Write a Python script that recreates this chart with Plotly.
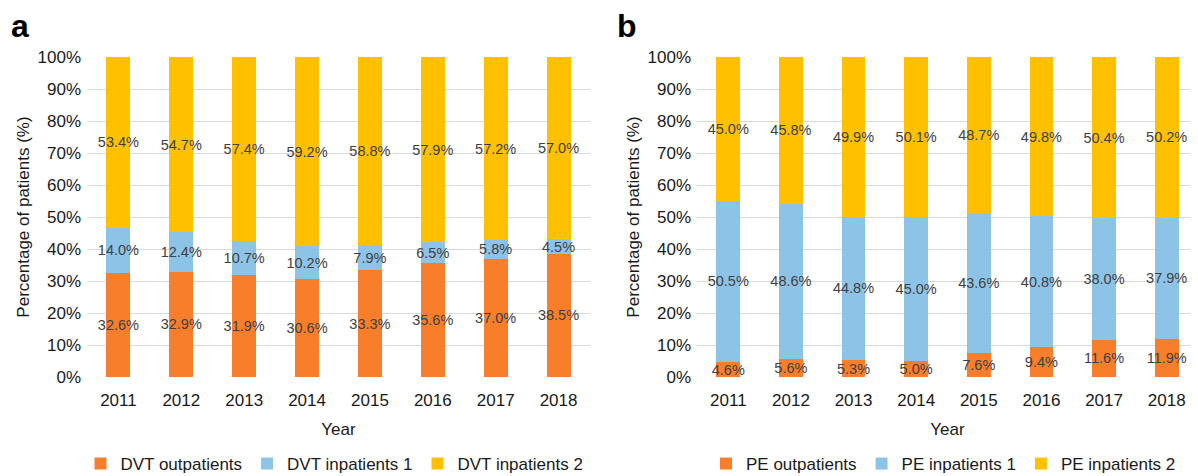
import plotly.graph_objects as go

years = ["2011", "2012", "2013", "2014", "2015", "2016", "2017", "2018"]

dvt_out = [32.6, 32.9, 31.9, 30.6, 33.3, 35.6, 37.0, 38.5]
dvt_in1 = [14.0, 12.4, 10.7, 10.2, 7.9, 6.5, 5.8, 4.5]
dvt_in2 = [53.4, 54.7, 57.4, 59.2, 58.8, 57.9, 57.2, 57.0]

pe_out = [4.6, 5.6, 5.3, 5.0, 7.6, 9.4, 11.6, 11.9]
pe_in1 = [50.5, 48.6, 44.8, 45.0, 43.6, 40.8, 38.0, 37.9]
pe_in2 = [45.0, 45.8, 49.9, 50.1, 48.7, 49.8, 50.4, 50.2]

ORANGE = "#F97E2B"
BLUE = "#8EC3E8"
YELLOW = "#FFC000"
FONT = "Liberation Sans, Arial, sans-serif"

fig = go.Figure()

def add_series(vals, name, color, xa, ya, leg):
    fig.add_trace(go.Bar(
        x=years, y=vals, name=name, marker_color=color, marker_line_width=0,
        text=[f"{v:.1f}%" for v in vals], textposition="inside",
        insidetextanchor="middle", textangle=0,
        textfont=dict(color="#404040", size=14.5, family=FONT),
        xaxis=xa, yaxis=ya, legend=leg, hoverinfo="skip",
    ))

add_series(dvt_out, "DVT outpatients", ORANGE, "x", "y", "legend")
add_series(dvt_in1, "DVT inpatients 1", BLUE, "x", "y", "legend")
add_series(dvt_in2, "DVT inpatients 2", YELLOW, "x", "y", "legend")
add_series(pe_out, "PE outpatients", ORANGE, "x2", "y2", "legend2")
add_series(pe_in1, "PE inpatients 1", BLUE, "x2", "y2", "legend2")
add_series(pe_in2, "PE inpatients 2", YELLOW, "x2", "y2", "legend2")

# page body has an 8px margin; figure is sized to fill the rest of the window
OFF = 8
W, H = 1198 - OFF, 476 - OFF
TOP = 57 - OFF
BOT = H - (377 - OFF)
PH = H - TOP - BOT
dom_a = [(87 - OFF) / W, (590 - OFF) / W]
dom_b = [(697 - OFF) / W, 1.0]

xcommon = dict(
    type="category", showgrid=False, zeroline=False, showline=False,
    ticks="", tickfont=dict(size=17, color="#1a1a1a", family=FONT),
    ticklabelstandoff=11,
    title=dict(text="Year", font=dict(size=17, color="#1a1a1a", family=FONT), standoff=14),
)
ycommon = dict(
    range=[0, 100], tickvals=[0, 10, 20, 30, 40, 50, 60, 70, 80, 90, 100],
    ticktext=[f"{v}%" for v in range(0, 101, 10)],
    showgrid=True, gridcolor="#D9D9D9", gridwidth=1.2, zeroline=False,
    showline=False, ticks="", tickfont=dict(size=17, color="#1a1a1a", family=FONT),
    ticklabelstandoff=5,
    title=dict(text="Percentage of patients (%)", font=dict(size=17, color="#1a1a1a", family=FONT), standoff=3),
)

legcommon = dict(
    orientation="h", xanchor="center", yanchor="middle",
    y=-((464 - OFF) - (H - BOT)) / PH,
    font=dict(size=17, color="#1a1a1a", family=FONT), itemwidth=30,
    traceorder="normal", bgcolor="rgba(0,0,0,0)", itemclick=False,
)

top_y = 1 + TOP / PH

fig.update_layout(
    width=W, height=H, barmode="stack", bargap=0.62,
    margin=dict(l=0, r=0, t=TOP, b=BOT, autoexpand=False),
    plot_bgcolor="white", paper_bgcolor="white",
    font=dict(family=FONT),
    uniformtext=dict(minsize=14.5, mode="show"),
    xaxis=dict(domain=dom_a, anchor="y", **xcommon),
    yaxis=dict(domain=[0, 1], anchor="x", **ycommon),
    xaxis2=dict(domain=dom_b, anchor="y2", **xcommon),
    yaxis2=dict(domain=[0, 1], anchor="x2", **ycommon),
    legend=dict(x=(dom_a[0] + dom_a[1]) / 2 - 4 / W, **legcommon),
    legend2=dict(x=(dom_b[0] + dom_b[1]) / 2 - 4 / W, **legcommon),
    annotations=[
        dict(text="<b>a</b>", x=(9 - OFF) / W, y=top_y, xref="paper", yref="paper",
             xanchor="left", yanchor="top", showarrow=False,
             font=dict(size=32, color="black", family=FONT), yshift=2),
        dict(text="<b>b</b>", x=(615 - OFF) / W, y=top_y, xref="paper", yref="paper",
             xanchor="left", yanchor="top", showarrow=False,
             font=dict(size=32, color="black", family=FONT), yshift=2),
    ],
)

fig.write_html("out.html")
